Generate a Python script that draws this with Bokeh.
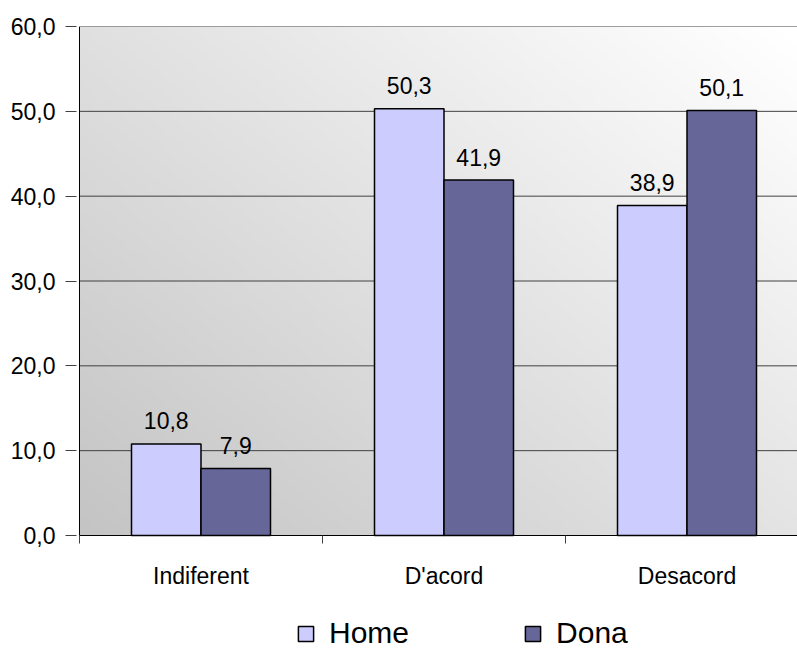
import numpy as np
from bokeh.plotting import figure
from bokeh.models import FixedTicker, Range1d, ColumnDataSource, Legend, LegendItem
from bokeh.core.properties import value
from bokeh.embed import file_html
from bokeh.resources import INLINE

# Survey answers by sex (percent)
categories = ["Indiferent", "D'acord", "Desacord"]
home = [10.8, 50.3, 38.9]
dona = [7.9, 41.9, 50.1]
series_names = ["Home", "Dona"]
y_ticks = [0, 10, 20, 30, 40, 50, 60]

FONT = "Liberation Sans"
W, H = 797, 650
AXIS_X = 79            # pixel column of the value axis
TOP = 26               # pixel row of the 60 line
PLOT_H = 509           # pixels from 0 to 60
Y_MAX = 60
CAT_PX = 243.0         # pixels per category
PAD = 3                # room left of the value axis inside the frame

px_per_unit = PLOT_H / Y_MAX
y_min = -(H - TOP - PLOT_H) / px_per_unit
x_start = -PAD / CAT_PX
x_end = (W - AXIS_X) / CAT_PX

p = figure(width=W, height=H, output_backend="svg", toolbar_location=None,
           x_range=Range1d(x_start, x_end), y_range=Range1d(y_min, Y_MAX),
           x_axis_location=None,
           min_border_left=AXIS_X - PAD, min_border_top=TOP, min_border_bottom=0,
           min_border_right=0)
p.outline_line_color = None
p.background_fill_color = "white"
p.border_fill_color = "white"

# diagonal grey-to-white backdrop of the plotting area
nx, ny = 200, 150
gx = np.linspace(0, 1, nx)[None, :]
gy = np.linspace(0, 1, ny)[:, None]
shade = np.clip(196 + 32 * gx + 28 * gy, 0, 255).astype(np.uint8)
img = np.empty((ny, nx), dtype=np.uint32)
view = img.view(dtype=np.uint8).reshape((ny, nx, 4))
view[:, :, 0] = shade
view[:, :, 1] = shade
view[:, :, 2] = shade
view[:, :, 3] = 255
p.image_rgba(image=[img], x=0, y=0, dw=x_end, dh=Y_MAX, level="image")

# horizontal gridlines across the plotting area
grid_src = ColumnDataSource(dict(y=y_ticks[1:]))
p.segment(x0=0, x1=x_end, y0="y", y1="y", source=grid_src,
          line_color="#404040", line_width=1, level="underlay")

# grouped bars
bar_w = 0.286
centers = np.arange(len(categories)) + 0.5
src = ColumnDataSource(dict(
    c=centers, home=home, dona=dona, names=categories,
    home_lbl=[f"{v:.1f}".replace(".", ",") for v in home],
    dona_lbl=[f"{v:.1f}".replace(".", ",") for v in dona],
    hx=centers - bar_w / 2, dx=centers + bar_w / 2,
))
r_home = p.vbar(x="hx", top="home", bottom=0, width=bar_w, source=src,
                fill_color="#CCCCFF", line_color="black", line_width=1.5)
r_dona = p.vbar(x="dx", top="dona", bottom=0, width=bar_w, source=src,
                fill_color="#666699", line_color="black", line_width=1.5)

for xcol, ycol, lcol in [("hx", "home", "home_lbl"), ("dx", "dona", "dona_lbl")]:
    p.text(x=xcol, y=ycol, text=lcol, source=src, text_align="center",
           text_baseline="alphabetic", y_offset=-23, text_font=value(FONT),
           text_font_size="23px", text_color="black")

# axis lines: value axis spine and category baseline
p.segment(x0=[0, 0], y0=[0, 0], x1=[0, x_end], y1=[Y_MAX, 0],
          line_color="black", line_width=1)

# category boundary ticks below the baseline
tick_len = 8 / px_per_unit
bounds = np.arange(len(categories) + 1)
p.segment(x0=bounds, x1=bounds, y0=0, y1=-tick_len,
          line_color="#404040", line_width=1)

# category names
p.text(x="c", y=0, text="names", source=src, text_align="center",
       text_baseline="middle", y_offset=40, text_font=value(FONT),
       text_font_size="23px", text_color="black")

# y axis: ticks and labels only, spine drawn above
p.yaxis.ticker = FixedTicker(ticks=y_ticks)
p.yaxis.major_label_overrides = {t: f"{t:.1f}".replace(".", ",") for t in y_ticks}
p.yaxis.major_label_text_font = FONT
p.yaxis.major_label_text_font_size = "23px"
p.yaxis.major_label_text_color = "black"
p.yaxis.axis_line_color = None
p.yaxis.major_tick_line_color = "#404040"
p.yaxis.major_tick_out = 8 + PAD
p.yaxis.major_tick_in = 0
p.yaxis.minor_tick_line_color = None
p.yaxis.major_label_standoff = 10

p.xgrid.grid_line_color = None
p.ygrid.grid_line_color = None

legend = Legend(items=[LegendItem(label=series_names[0], renderers=[r_home]),
                       LegendItem(label=series_names[1], renderers=[r_dona])],
                orientation="horizontal", location=(220, 0),
                label_text_font=FONT, label_text_font_size="30px",
                label_text_color="black",
                glyph_width=19, glyph_height=19, spacing=114,
                label_standoff=14, border_line_color=None,
                background_fill_alpha=0, margin=0, padding=0)
p.add_layout(legend, "center")

open("out.html", "w").write(file_html(p, INLINE))
